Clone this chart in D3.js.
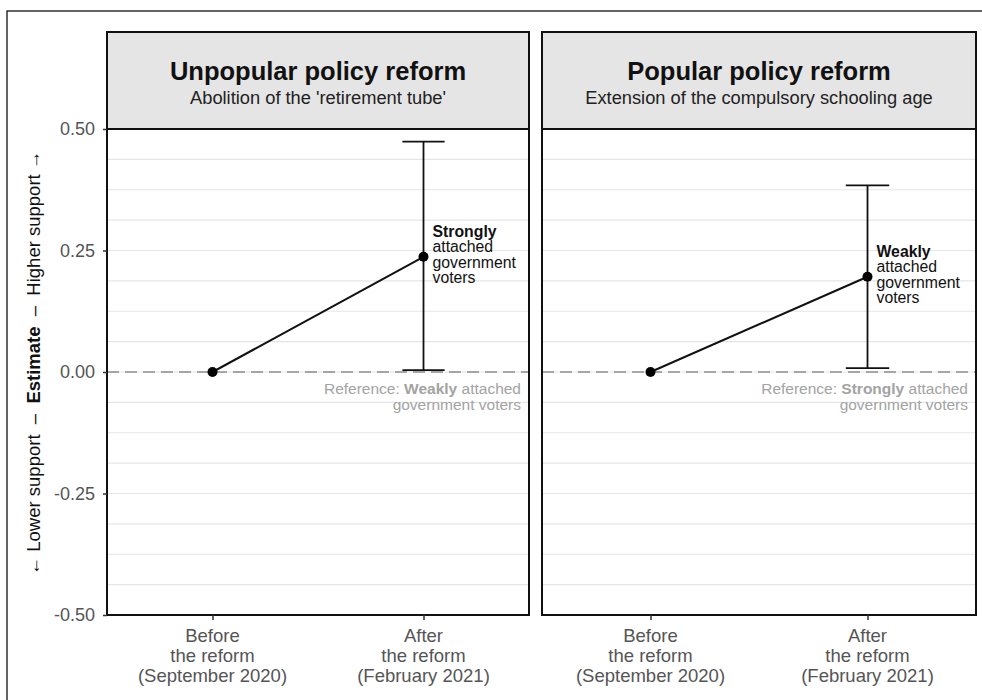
<!DOCTYPE html>
<html><head><meta charset="utf-8">
<script src="https://cdn.jsdelivr.net/npm/d3@7"></script>
<style>
body{margin:0;background:#fff;}
text{font-family:"Liberation Sans",Arial,sans-serif;}
</style></head>
<body><svg id="c" width="982" height="700"></svg>
<script>
// ---- data ----
const facetTitles = ["Unpopular policy reform", "Popular policy reform"];
const facetSubtitles = ["Abolition of the 'retirement tube'", "Extension of the compulsory schooling age"];
const periods = ["Before", "After"];
const periodLabels = [["Before", "the reform", "(September 2020)"], ["After", "the reform", "(February 2021)"]];
const estimatesUnpopular = [0, 0.237];
const estimatesPopular = [0, 0.196];
const ciLower = [0.004, 0.008];
const ciUpper = [0.474, 0.384];
const groupBold = ["Strongly", "Weakly"];
const refBold = ["Weakly", "Strongly"];
const yTicks = [-0.5, -0.25, 0, 0.25, 0.5];
const yGrid = d3.range(-0.5, 0.5001, 0.0625);

// ---- layout ----
const svg = d3.select("#c");
const panels = [{x0: 107, x1: 529}, {x0: 542, x1: 976}];
const yTop = 129, yBot = 615, stripTop = 32;
const y = d3.scaleLinear().domain([-0.5, 0.5]).range([yBot, yTop]);
const estimates = [estimatesUnpopular, estimatesPopular];
const fmt = d => d3.format(".2f")(d).replace("\u2212", "-");

// outer frame
svg.append("rect").attr("x", 7).attr("y", 11).attr("width", 1000).attr("height", 720)
  .attr("fill", "none").attr("stroke", "#111").attr("stroke-width", 1.3);

panels.forEach((p, i) => {
  const x = d3.scalePoint().domain(periods).range([p.x0, p.x1]).padding(0.5);
  const g = svg.append("g");
  // grid
  g.selectAll("line.grid").data(yGrid).join("line")
    .attr("x1", p.x0).attr("x2", p.x1).attr("y1", d => y(d)).attr("y2", d => y(d))
    .attr("stroke", "#e6e6e6").attr("stroke-width", 1.1);
  // zero ref line
  g.append("line").attr("x1", p.x0).attr("x2", p.x1).attr("y1", y(0)).attr("y2", y(0))
    .attr("stroke", "#a6a6a6").attr("stroke-width", 2).attr("stroke-dasharray", "12,6");
  // reference text
  const rt = g.append("text").attr("x", p.x1 - 8).attr("y", y(0) + 22)
    .attr("text-anchor", "end").attr("font-size", 15.5).attr("fill", "#a3a3a3");
  rt.append("tspan").text("Reference: ");
  rt.append("tspan").attr("font-weight", "bold").text(refBold[i]);
  rt.append("tspan").text(" attached");
  g.append("text").attr("x", p.x1 - 8).attr("y", y(0) + 38)
    .attr("text-anchor", "end").attr("font-size", 15.5).attr("fill", "#a3a3a3").text("government voters");
  // error bar
  const step = x.step();
  const xa = x("After");
  g.append("line").attr("x1", xa).attr("x2", xa).attr("y1", y(ciLower[i])).attr("y2", y(ciUpper[i]))
    .attr("stroke", "#111").attr("stroke-width", 1.8);
  [ciLower[i], ciUpper[i]].forEach(v => {
    g.append("line").attr("x1", xa - step * 0.1).attr("x2", xa + step * 0.1)
      .attr("y1", y(v)).attr("y2", y(v)).attr("stroke", "#111").attr("stroke-width", 1.8);
  });
  // line + points
  const line = d3.line().x((d, j) => x(periods[j])).y(d => y(d));
  g.append("path").attr("d", line(estimates[i])).attr("fill", "none")
    .attr("stroke", "#111").attr("stroke-width", 2);
  g.selectAll("circle").data(estimates[i]).join("circle")
    .attr("cx", (d, j) => x(periods[j])).attr("cy", d => y(d)).attr("r", 5).attr("fill", "#000");
  // group label
  const lines = [groupBold[i], "attached", "government", "voters"];
  const cy = y(estimates[i][1]);
  lines.forEach((t, k) => {
    g.append("text").attr("x", xa + 9).attr("y", cy - 20 + k * 15.4)
      .attr("font-size", 15.8).attr("font-weight", k === 0 ? "bold" : "normal")
      .attr("fill", "#111").text(t);
  });
  // panel border
  g.append("rect").attr("x", p.x0).attr("y", yTop).attr("width", p.x1 - p.x0).attr("height", yBot - yTop)
    .attr("fill", "none").attr("stroke", "#111").attr("stroke-width", 2);
  // strip
  g.append("rect").attr("x", p.x0).attr("y", stripTop).attr("width", p.x1 - p.x0).attr("height", yTop - stripTop)
    .attr("fill", "#e5e5e5").attr("stroke", "#111").attr("stroke-width", 2);
  const cxs = (p.x0 + p.x1) / 2;
  g.append("text").attr("x", cxs).attr("y", 80).attr("text-anchor", "middle")
    .attr("font-size", 25.5).attr("font-weight", "bold").attr("fill", "#111").text(facetTitles[i]);
  g.append("text").attr("x", cxs).attr("y", 104).attr("text-anchor", "middle")
    .attr("font-size", 18.3).attr("fill", "#222").text(facetSubtitles[i]);
  // x axis
  const xa_g = g.append("g").attr("transform", `translate(0,${yBot})`)
    .call(d3.axisBottom(x).tickSize(5).tickFormat(""));
  xa_g.select(".domain").remove();
  xa_g.selectAll(".tick line").attr("stroke", "#333").attr("stroke-width", 1.5);
  periods.forEach((per, j) => {
    periodLabels[j].forEach((t, k) => {
      g.append("text").attr("x", x(per)).attr("y", 642 + k * 20).attr("text-anchor", "middle")
        .attr("font-size", 18.5).attr("fill", "#555").text(t);
    });
  });
});

// y axis
const yAx = svg.append("g").attr("transform", `translate(${panels[0].x0},0)`)
  .call(d3.axisLeft(y).tickValues(yTicks).tickSize(4).tickPadding(8).tickFormat(fmt));
yAx.select(".domain").remove();
yAx.selectAll(".tick line").attr("stroke", "#333").attr("stroke-width", 1.5);
yAx.selectAll(".tick text").attr("font-size", 18).attr("fill", "#555")
  .style("font-family", "Liberation Sans, Arial, sans-serif");

// y title
const yt = svg.append("text").attr("transform", `translate(40,363) rotate(-90)`)
  .attr("text-anchor", "middle").attr("font-size", 18.5).attr("fill", "#111");
const sp = "\u00a0\u00a0";
yt.append("tspan").text("\u2190 Lower support" + sp + "\u2013" + sp);
yt.append("tspan").attr("font-weight", "bold").text("Estimate");
yt.append("tspan").text(sp + "\u2013" + sp + "Higher support \u2192");
</script></body></html>
